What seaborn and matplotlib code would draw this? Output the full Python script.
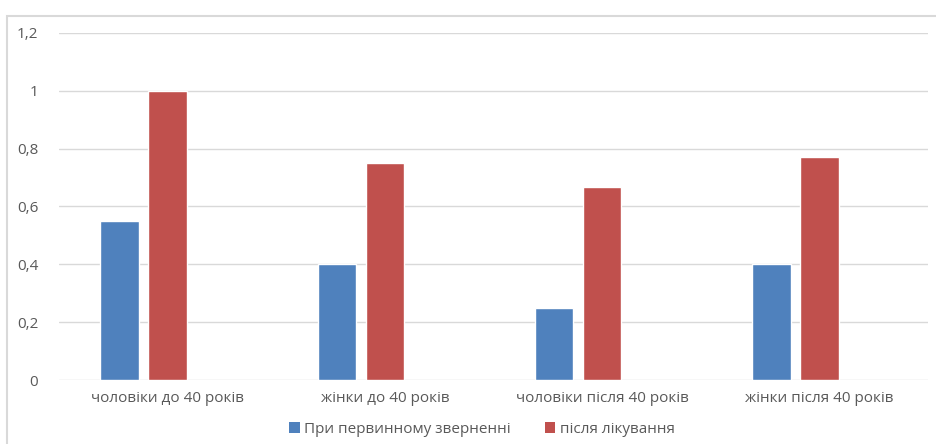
import matplotlib
matplotlib.use("Agg")
import matplotlib.pyplot as plt
from matplotlib.patches import Rectangle, Patch
import pandas as pd
import seaborn as sns

categories = ["чоловіки до 40 років", "жінки до 40 років",
              "чоловіки після 40 років", "жінки після 40 років"]
series_names = ["При первинному зверненні", "після лікування"]
first_visit = [0.55, 0.40, 0.25, 0.40]
after_treatment = [1.00, 0.75, 0.667, 0.77]
y_ticks = [0, 0.2, 0.4, 0.6, 0.8, 1.0, 1.2]
y_tick_labels = ["0", "0,2", "0,4", "0,6", "0,8", "1", "1,2"]

colors = {series_names[0]: "#4F81BD", series_names[1]: "#C0504D", "": "#FFFFFF"}

df = pd.DataFrame({
    "category": categories * 2,
    "series": [series_names[0]] * 4 + [series_names[1]] * 4,
    "value": first_visit + after_treatment,
})

sns.set_style("white")
plt.rcParams["font.family"] = ["Open Sans", "DejaVu Sans"]

fig = plt.figure(figsize=(9.36, 4.44), dpi=100)
ax = fig.add_axes([59 / 936, (444 - 380) / 444, (928 - 59) / 936, (380 - 33) / 444])

# a third, empty slot in each group keeps the original column layout
sns.barplot(data=df, x="category", y="value", hue="series",
            hue_order=series_names + [""], palette=colors,
            order=categories, width=0.663, gap=0.2, legend=False,
            errorbar=None, saturation=1, ax=ax)

ax.set_ylim(0, 1.2)
ax.set_xlim(-0.5, 3.5)
ax.set_yticks(y_ticks)
ax.set_yticklabels(y_tick_labels)
ax.yaxis.grid(True, color="#D9D9D9", linewidth=1.0)
ax.set_axisbelow(True)
for s in ax.spines.values():
    s.set_visible(False)
ax.set_xlabel("")
ax.set_ylabel("")
ax.tick_params(axis="both", length=0, colors="#595959", labelsize=11)
ax.tick_params(axis="y", pad=15)
ax.tick_params(axis="x", pad=8)

handles = [Patch(facecolor=colors[n], edgecolor="none") for n in series_names]
fig.legend(handles, series_names, loc="center", bbox_to_anchor=(482 / 936, 1 - 429 / 444),
           ncol=2, frameon=False, fontsize=11, labelcolor="#595959",
           handlelength=0.7, handleheight=0.7, handletextpad=0.3, columnspacing=2.2)

# chart area border
fig.add_artist(Rectangle((7 / 936, -0.1), 1.2, 1 - 16 / 444 + 0.1,
                         transform=fig.transFigure, fill=False,
                         edgecolor="#D9D9D9", linewidth=1.5))

fig.savefig("out.png", dpi=100)
